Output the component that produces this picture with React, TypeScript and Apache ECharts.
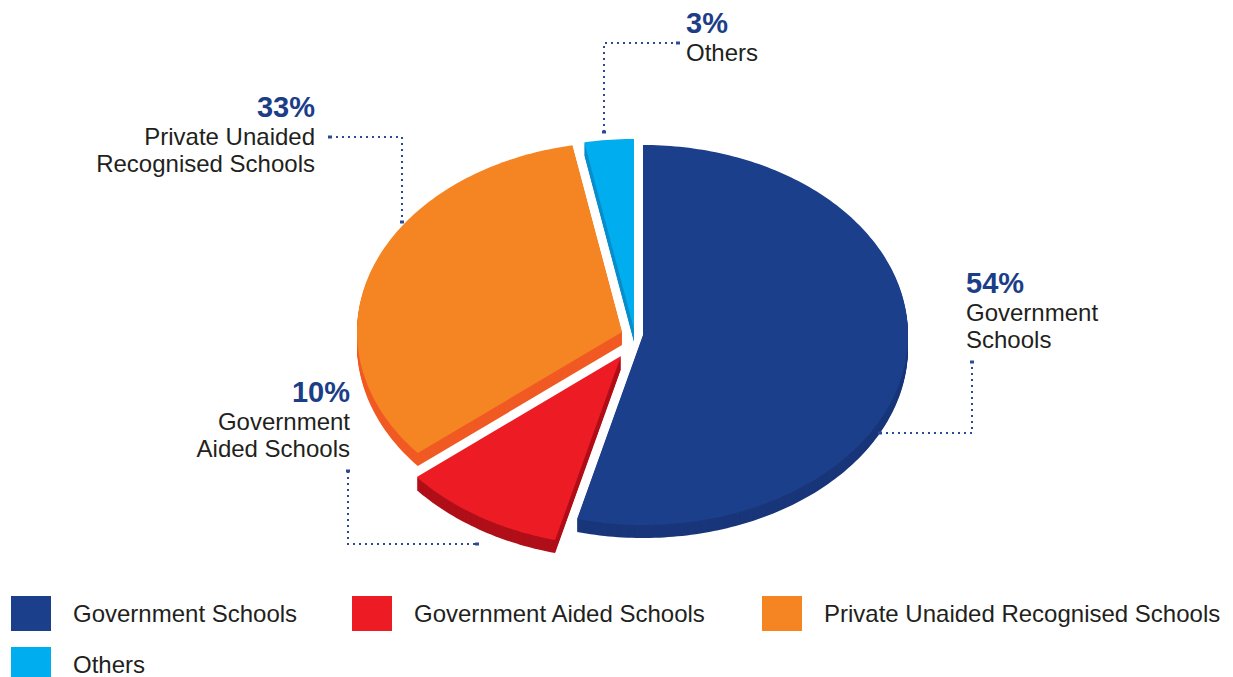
import React, { useEffect, useRef } from "react";
import * as echarts from "echarts";

// ---- data ----
const categories = [
  "Government Schools",
  "Government Aided Schools",
  "Private Unaided Recognised Schools",
  "Others",
];
const shares = [54, 10, 33, 3];
const labelLines = [
  ["Government", "Schools"],
  ["Government", "Aided Schools"],
  ["Private Unaided", "Recognised Schools"],
  ["Others"],
];

// ---- styles / layout ----
const topColors = ["#1c3f8b", "#ed1c24", "#f58423", "#00aeef"];
const sideColors = ["#19367a", "#b00f19", "#f15a24", "#0a8ecb"];
const explode = [
  [0, 0],
  [-22, 21],
  [-21, -3],
  [-9, -6],
];
const CX = 643;
const CY = 335;
const RX = 265;
const RY = 190;
const DEPTH = 13;
const FONT = "'Liberation Sans', Arial, Helvetica, sans-serif";
const PCT_COLOR = "#1b3e87";
const TXT_COLOR = "#231f20";
const LINE_COLOR = "#2a4a9a";
const PCT_SIZE = 29;
const TXT_SIZE = 24;

// label anchor: [x, baselineOfPct, align]
const labelPos: [number, number, "left" | "right"][] = [
  [966, 293, "left"],
  [350, 402, "right"],
  [315, 117, "right"],
  [686, 33, "left"],
];
// leader lines
const leaders: number[][][] = [
  [
    [880, 433],
    [972, 433],
    [972, 362],
  ],
  [
    [348, 471],
    [348, 544],
    [477, 544],
  ],
  [
    [330, 137],
    [402, 137],
    [402, 222],
  ],
  [
    [604, 132],
    [604, 43],
    [678, 43],
  ],
];
const legendPos = [
  [11, 596],
  [352, 596],
  [762, 596],
  [11, 647],
];

export default function App() {
  const ref = useRef<HTMLDivElement>(null);
  useEffect(() => {
    if (!ref.current) return;
    const chart = echarts.init(ref.current, undefined, { renderer: "svg" });
    const total = shares.reduce((a, b) => a + b, 0);

    const graphics: any[] = [];
    // leader lines
    leaders.forEach((pts) => {
      graphics.push({
        type: "polyline",
        shape: { points: pts },
        style: { stroke: LINE_COLOR, lineWidth: 2, lineDash: [2, 4], fill: null },
        z: 10,
      });
      [pts[0], pts[pts.length - 1]].forEach((p) => {
        graphics.push({
          type: "rect",
          shape: { x: p[0] - 2, y: p[1] - 1.5, width: 4, height: 3 },
          style: { fill: LINE_COLOR },
          z: 10,
        });
      });
    });
    // labels
    labelPos.forEach(([x, base, align], i) => {
      graphics.push({
        type: "text",
        style: {
          text: shares[i] + "%",
          x,
          y: base - 0.3465 * PCT_SIZE,
          align,
          verticalAlign: "middle",
          fontFamily: FONT,
          fontWeight: "bold",
          fontSize: PCT_SIZE,
          fill: PCT_COLOR,
        },
        z: 10,
      });
      labelLines[i].forEach((line, j) => {
        graphics.push({
          type: "text",
          style: {
            text: line,
            x,
            y: base + 27.5 * (j + 1) - 0.3465 * TXT_SIZE,
            align,
            verticalAlign: "middle",
            fontFamily: FONT,
            fontSize: TXT_SIZE,
            fill: TXT_COLOR,
          },
          z: 10,
        });
      });
    });
    // legend
    categories.forEach((name, i) => {
      const [x, y] = legendPos[i];
      graphics.push({
        type: "rect",
        shape: { x, y, width: 40, height: 35 },
        style: { fill: topColors[i] },
      });
      graphics.push({
        type: "text",
        style: {
          text: name,
          x: x + 62,
          y: y + 17,
          verticalAlign: "middle",
          fontFamily: FONT,
          fontSize: TXT_SIZE,
          fill: TXT_COLOR,
        },
      });
    });

    chart.setOption({
      animation: false,
      graphic: graphics,
      series: [
        {
          type: "custom",
          coordinateSystem: "none",
          silent: true,
          data: shares.map((v, i) => ({ name: categories[i], value: [v] })),
          renderItem: (params: any, api: any) => {
            const i = params.dataIndex;
            const v = api.value(0);
            let before = 0;
            for (let k = 0; k < i; k++) before += shares[k];
            const a0 = (before / total) * 360;
            const a1 = ((before + v) / total) * 360;
            const [dx, dy] = explode[i];
            const ox = CX + dx;
            const oy = CY + dy;
            const pts: number[][] = [[ox, oy]];
            const steps = Math.max(2, Math.ceil(a1 - a0));
            for (let s = 0; s <= steps; s++) {
              const t = ((a0 + ((a1 - a0) * s) / steps) * Math.PI) / 180;
              pts.push([ox + RX * Math.sin(t), oy - RY * Math.cos(t)]);
            }
            const children: any[] = [];
            for (let d = DEPTH; d >= 1; d--) {
              children.push({
                type: "polygon",
                shape: { points: pts.map((p) => [p[0], p[1] + d]) },
                style: { fill: sideColors[i] },
              });
            }
            children.push({
              type: "polygon",
              shape: { points: pts },
              style: { fill: topColors[i] },
            });
            return { type: "group", children };
          },
        },
      ],
    });
    return () => chart.dispose();
  }, []);
  return (
    <div
      ref={ref}
      style={{ position: "fixed", left: 0, top: 0, width: 1233, height: 677, background: "#fff" }}
    />
  );
}
